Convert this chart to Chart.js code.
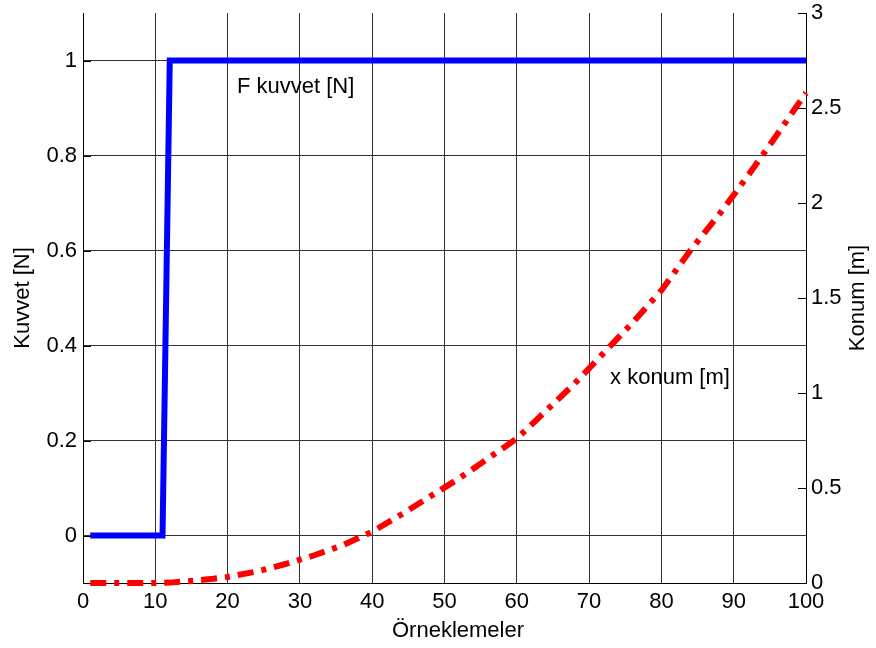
<!DOCTYPE html>
<html>
<head>
<meta charset="utf-8">
<script src="https://cdn.jsdelivr.net/npm/chart.js@4"></script>
<style>
  html, body { margin: 0; padding: 0; background: #fff; }
  canvas { display: block; }
</style>
</head>
<body>
<canvas id="grafik" width="876" height="648"></canvas>
<script>
// kuvvet (basamak girişi)
const kuvvetOrnek = [1, 11, 12, 100];
const kuvvetDeger = [0, 0, 1, 1];

// konum cevabı
const konumOrnek = [1, 5, 10, 12, 14, 16, 18, 20, 24, 28, 32, 36, 40, 44, 48, 52, 56, 60, 64, 68, 72, 76, 80, 84, 88, 92, 96, 100];
const konumDeger = [0, 0, 0, 0.002, 0.008, 0.014, 0.022, 0.032, 0.06, 0.10, 0.146, 0.20, 0.27, 0.36, 0.455, 0.55, 0.655, 0.76, 0.905, 1.05, 1.21, 1.37, 1.54, 1.75, 1.94, 2.145, 2.36, 2.58];

// eksen çentikleri
const ornekTicks = [0, 10, 20, 30, 40, 50, 60, 70, 80, 90, 100];
const kuvvetTicks = [0, 0.2, 0.4, 0.6, 0.8, 1];
const konumTicks = [0, 0.5, 1, 1.5, 2, 2.5, 3];

const FONT = { family: '"Liberation Sans", Arial, sans-serif', size: 22 };

function noktalar(xs, ys) {
  return xs.map((x, i) => ({ x: x, y: ys[i] }));
}

// eksen kenar boşluklarını sıfırla, çizim alanını padding belirlesin
function dikeyBoyut(genislik) {
  return s => { s.width = genislik; s.paddingTop = 0; s.paddingBottom = 0; };
}

// içe doğru çentikler, eksen başlıkları ve eğri etiketleri
const eklerPlugin = {
  id: 'ekler',
  afterDatasetsDraw(chart) {
    const { ctx, chartArea, scales } = chart;
    ctx.save();
    ctx.strokeStyle = '#000';
    ctx.lineWidth = 1;
    ctx.beginPath();
    konumTicks.forEach(v => {
      const y = Math.round(scales.y2.getPixelForValue(v)) + 0.5;
      ctx.moveTo(chartArea.right, y);
      ctx.lineTo(chartArea.right - 8, y);
    });
    kuvvetTicks.forEach(v => {
      const y = Math.round(scales.y.getPixelForValue(v)) + 0.5;
      ctx.moveTo(chartArea.left, y);
      ctx.lineTo(chartArea.left + 8, y);
    });
    ctx.stroke();

    ctx.fillStyle = '#000';
    ctx.font = FONT.size + 'px ' + FONT.family;
    ctx.textBaseline = 'middle';
    ctx.textAlign = 'left';
    ctx.fillText('F kuvvet [N]', scales.x.getPixelForValue(21.3), scales.y.getPixelForValue(0.945));
    ctx.fillText('x konum [m]', scales.x.getPixelForValue(72.9), scales.y2.getPixelForValue(1.08));

    // alt eksen başlığı
    ctx.textAlign = 'center';
    ctx.fillText('Örneklemeler', 458, 631);

    // sağ eksen başlığı, aşağıdan yukarı okunur
    ctx.translate(858, (chartArea.top + chartArea.bottom) / 2);
    ctx.rotate(-Math.PI / 2);
    ctx.fillText('Konum [m]', 0, 0);
    ctx.restore();
  }
};

new Chart(document.getElementById('grafik'), {
  type: 'line',
  data: {
    datasets: [
      {
        label: 'F kuvvet [N]',
        data: noktalar(kuvvetOrnek, kuvvetDeger),
        yAxisID: 'y',
        borderColor: '#0000ff',
        borderWidth: 6,
        borderJoinStyle: 'miter',
        pointRadius: 0,
        tension: 0,
        clip: 6
      },
      {
        label: 'x konum [m]',
        data: noktalar(konumOrnek, konumDeger),
        yAxisID: 'y2',
        borderColor: '#ff0000',
        borderWidth: 6,
        borderDash: [16, 8, 5, 8],
        borderCapStyle: 'butt',
        pointRadius: 0,
        tension: 0,
        clip: 6
      }
    ]
  },
  options: {
    responsive: false,
    animation: false,
    layout: { padding: { top: 13, left: 0, right: 0, bottom: 0 } },
    plugins: {
      legend: { display: false },
      tooltip: { enabled: false }
    },
    scales: {
      x: {
        type: 'linear',
        min: 0,
        max: 100,
        afterBuildTicks: s => { s.ticks = ornekTicks.map(v => ({ value: v })); },
        afterFit: s => { s.height = 65; s.paddingLeft = 0; s.paddingRight = 0; },
        ticks: { color: '#000', font: FONT, padding: 6, maxRotation: 0 },
        grid: { color: '#333', lineWidth: 1, drawTicks: false },
        border: { display: true, color: '#000', width: 1 },
        title: { display: false }
      },
      y: {
        type: 'linear',
        position: 'left',
        min: -0.1,
        max: 1.1,
        afterBuildTicks: s => { s.ticks = kuvvetTicks.map(v => ({ value: v })); },
        afterFit: dikeyBoyut(83),
        ticks: { color: '#000', font: FONT, padding: 6, callback: v => String(Number(v.toFixed(1))) },
        grid: { color: '#333', lineWidth: 1, drawTicks: false },
        border: { display: true, color: '#000', width: 1 },
        title: { display: true, text: 'Kuvvet [N]', color: '#000', font: FONT, padding: { top: 10 } }
      },
      y2: {
        type: 'linear',
        position: 'right',
        min: 0,
        max: 3,
        afterBuildTicks: s => { s.ticks = konumTicks.map(v => ({ value: v })); },
        afterFit: dikeyBoyut(70),
        ticks: { color: '#000', font: FONT, padding: 5, callback: v => String(v) },
        grid: { drawOnChartArea: false, drawTicks: false },
        border: { display: true, color: '#000', width: 1 },
        title: { display: false }
      }
    }
  },
  plugins: [eklerPlugin]
});
</script>
</body>
</html>
